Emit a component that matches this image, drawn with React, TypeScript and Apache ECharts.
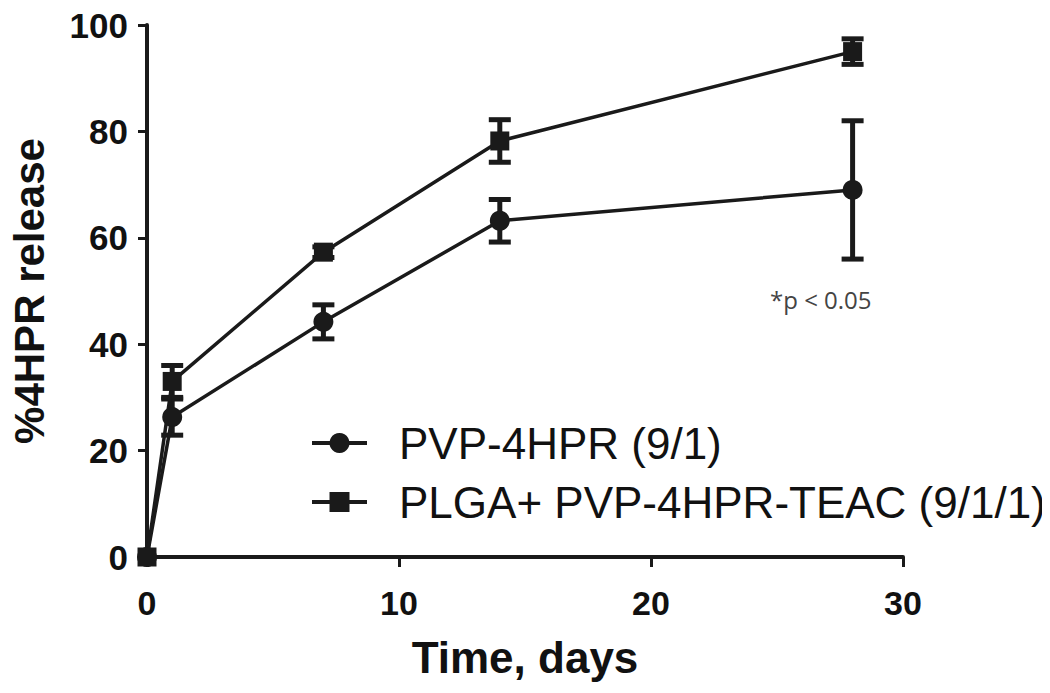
import React, { useEffect, useRef } from "react";
import * as echarts from "echarts";

const days = [0, 1, 7, 14, 28];
const pvpMean = [0, 26.3, 44.2, 63.2, 69];
const pvpErr = [0, 3.4, 3.2, 4, 13];
const plgaMean = [0, 33, 57.3, 78.2, 95];
const plgaErr = [0, 3, 1, 4, 2.4];
const xTicks = [0, 10, 20, 30];
const yTicks = [0, 20, 40, 60, 80, 100];
const seriesNames = ["PVP-4HPR (9/1)", "PLGA+ PVP-4HPR-TEAC (9/1/1)"];

const INK = "#1a1a1a";
const FONT = "Liberation Sans, Arial, sans-serif";

export default function App() {
  const ref = useRef<HTMLDivElement>(null);
  useEffect(() => {
    if (!ref.current) return;
    const chart = echarts.init(ref.current, null, { renderer: "svg" });
    const pts = (m: number[]) => days.map((d, i) => [d, m[i]]);
    const errs = (m: number[], e: number[]) =>
      days.map((d, i) => [d, m[i] - e[i], m[i] + e[i]]);
    const renderErr = (params: any, api: any) => {
      const x = api.value(0);
      const lo = api.value(1);
      const hi = api.value(2);
      if (hi - lo < 0.01) return { type: "group", children: [] };
      const t = api.coord([x, hi]);
      const b = api.coord([x, lo]);
      const hw = 11;
      const st = { stroke: INK, lineWidth: 5 };
      return {
        type: "group",
        children: [
          { type: "line", shape: { x1: t[0], y1: t[1], x2: b[0], y2: b[1] }, style: st },
          { type: "line", shape: { x1: t[0] - hw, y1: t[1], x2: t[0] + hw, y2: t[1] }, style: st },
          { type: "line", shape: { x1: b[0] - hw, y1: b[1], x2: b[0] + hw, y2: b[1] }, style: st },
        ],
      };
    };
    chart.setOption({
      animation: false,
      backgroundColor: "#ffffff",
      grid: { left: 145, right: 147, top: 25, bottom: 136 },
      xAxis: {
        type: "value",
        min: 0,
        max: 30,
        interval: 10,
        axisLine: { show: true, lineStyle: { color: INK, width: 4 } },
        axisTick: { show: true, length: 10, lineStyle: { color: INK, width: 3 } },
        axisLabel: {
          show: true,
          margin: 29,
          fontSize: 34,
          fontWeight: "bold",
          fontFamily: FONT,
          color: "#111",
          customValues: xTicks,
        },
        splitLine: { show: false },
        name: "Time, days",
        nameLocation: "middle",
        nameGap: 78,
        nameTextStyle: {
          fontSize: 44,
          fontWeight: "bold",
          fontFamily: FONT,
          color: "#111",
        },
      },
      yAxis: {
        type: "value",
        min: 0,
        max: 100,
        interval: 20,
        axisLine: { show: true, lineStyle: { color: INK, width: 4 } },
        axisTick: { show: true, length: 9, lineStyle: { color: INK, width: 3 } },
        axisLabel: {
          show: true,
          margin: 19,
          fontSize: 35,
          fontWeight: "bold",
          fontFamily: FONT,
          color: "#111",
          customValues: yTicks,
        },
        splitLine: { show: false },
        name: "%4HPR release",
        nameLocation: "middle",
        nameGap: 97,
        nameTextStyle: {
          fontSize: 42,
          fontWeight: "bold",
          fontFamily: FONT,
          color: "#111",
        },
      },
      legend: {
        orient: "vertical",
        left: 305,
        top: 414,
        itemWidth: 55,
        itemHeight: 25,
        itemGap: 11,
        data: seriesNames,
        lineStyle: { width: 4, color: INK },
        textStyle: {
          fontSize: 44,
          lineHeight: 48,
          fontFamily: FONT,
          color: "#111",
          padding: [0, 0, 0, 27],
        },
      },
      series: [
        {
          type: "custom",
          name: "errPvp",
          renderItem: renderErr,
          data: errs(pvpMean, pvpErr),
          encode: { x: 0, y: [1, 2] },
          z: 1,
          silent: true,
        },
        {
          type: "custom",
          name: "errPlga",
          renderItem: renderErr,
          data: errs(plgaMean, plgaErr),
          encode: { x: 0, y: [1, 2] },
          z: 1,
          silent: true,
        },
        {
          type: "line",
          name: seriesNames[0],
          data: pts(pvpMean),
          symbol: "circle",
          symbolSize: 20,
          showAllSymbol: true,
          lineStyle: { color: INK, width: 3.5 },
          itemStyle: { color: INK },
          z: 3,
        },
        {
          type: "line",
          name: seriesNames[1],
          data: pts(plgaMean),
          symbol: "rect",
          symbolSize: 19,
          showAllSymbol: true,
          lineStyle: { color: INK, width: 3.5 },
          itemStyle: { color: INK },
          z: 3,
        },
      ],
      graphic: [
        {
          type: "text",
          left: 770,
          top: 287,
          style: {
            text: "*p < 0.05",
            fontSize: 24,
            fontFamily: "Open Sans, Noto Sans, sans-serif",
            fill: "#444",
          },
        },
      ],
    });
    return () => chart.dispose();
  }, []);
  return <div ref={ref} style={{ width: 1050, height: 693, margin: -8 }} />;
}
